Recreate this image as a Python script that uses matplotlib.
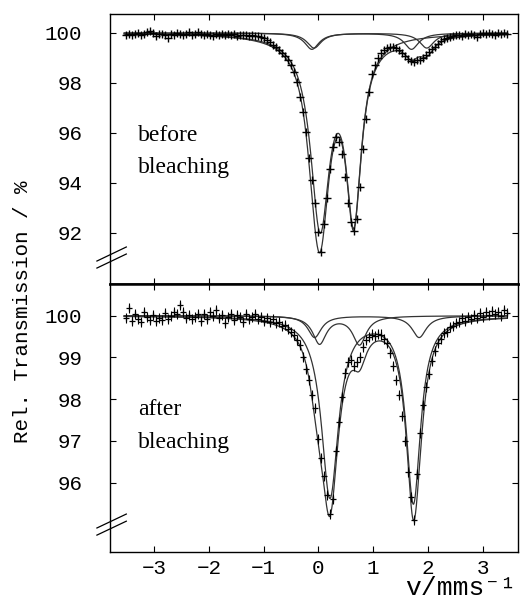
import numpy as np
import matplotlib
matplotlib.use('Agg')
import matplotlib.pyplot as plt

plt.rcParams['font.family'] = ['Liberation Mono', 'DejaVu Sans Mono']

# Mossbauer channels (mm/s), same velocity scale for both spectra
v_start, v_step, n_chan = -3.52, 0.0548, 128
velocity = v_start + v_step * np.arange(n_chan)

# measured transmission (%) - before bleaching
top_trans = [
    99.93, 99.97, 99.90, 99.95, 99.99, 99.92, 99.96, 100.03, 100.08, 99.98,
    99.88, 99.94, 99.97, 99.90, 99.80, 99.95, 99.92, 99.99, 99.94, 99.90,
    99.96, 100.02, 99.93, 99.97, 100.04, 99.95, 99.91, 99.97, 99.93, 99.88,
    99.95, 99.92, 99.96, 99.90, 99.94, 99.91, 99.95, 99.89, 99.93, 99.90,
    99.92, 99.87, 99.90, 99.86, 99.88, 99.84, 99.78, 99.70, 99.62, 99.52,
    99.45, 99.33, 99.20, 99.08, 98.92, 98.70, 98.42, 98.02, 97.45, 96.85,
    96.05, 95.00, 94.10, 93.20, 92.05, 91.25, 92.35, 93.40, 94.55, 95.45,
    95.82, 95.65, 95.15, 94.25, 93.20, 92.45, 92.08, 92.55, 93.85, 95.35,
    96.55, 97.65, 98.35, 98.70, 98.98, 99.18, 99.30, 99.38, 99.42, 99.45,
    99.40, 99.32, 99.20, 99.08, 98.95, 98.86, 98.85, 98.90, 98.92, 99.00,
    99.12, 99.22, 99.35, 99.45, 99.57, 99.66, 99.75, 99.80, 99.85, 99.88,
    99.90, 99.93, 99.88, 99.95, 99.92, 99.97, 99.93, 99.82, 99.95, 99.98,
    99.94, 100.00, 99.96, 99.92, 99.98, 99.95, 100.01, 99.97]

# measured transmission (%) - after bleaching
bot_trans = [
    99.95, 100.18, 99.88, 100.05, 99.92, 99.85, 100.08, 99.96, 99.90, 100.02,
    99.87, 99.95, 99.90, 100.06, 99.93, 100.00, 100.10, 100.04, 100.25, 100.08,
    99.94, 100.02, 99.91, 99.97, 100.05, 99.88, 100.03, 99.92, 100.08, 100.00,
    100.14, 99.95, 100.02, 99.82, 99.96, 100.05, 99.90, 100.02, 99.97, 99.85,
    100.04, 99.92, 99.98, 100.05, 99.93, 99.97, 99.88, 99.95, 99.86, 99.92,
    99.82, 99.85, 99.76, 99.78, 99.68, 99.62, 99.55, 99.42, 99.30, 99.02,
    98.72, 98.45, 98.10, 97.80, 97.05, 96.60, 96.15, 95.70, 95.25, 95.60,
    96.75, 97.45, 98.05, 98.62, 98.88, 98.95, 98.80, 98.90, 99.02, 99.25,
    99.42, 99.50, 99.55, 99.52, 99.56, 99.55, 99.45, 99.35, 99.10, 98.80,
    98.45, 98.10, 97.60, 97.00, 96.25, 95.65, 95.10, 96.20, 97.20, 97.85,
    98.30, 98.60, 98.92, 99.15, 99.35, 99.45, 99.58, 99.62, 99.72, 99.75,
    99.82, 99.85, 99.95, 99.88, 99.98, 99.92, 100.02, 99.95, 100.06, 99.98,
    100.08, 100.02, 100.12, 100.04, 100.10, 100.00, 100.14, 100.06]
bot_err = 0.12

# fitted subspectra: (line position mm/s, depth %, half width mm/s)
top_main = [(0.03, 7.515, 0.21), (0.645, 7.04, 0.17)]
top_site_a = [(-0.12, 0.65, 0.16), (1.70, 0.65, 0.16)]
top_site_b = [(-0.08, 0.60, 0.16), (1.98, 0.60, 0.16)]

bot_main = [(0.21, 4.33, 0.19), (1.735, 4.45, 0.16)]
bot_site_c = [(-0.07, 0.52, 0.15), (1.84, 0.52, 0.16)]
bot_site_d = [(0.02, 0.66, 0.15), (0.75, 0.68, 0.15)]


def absorption(v, lines):
    a = np.zeros_like(v)
    for pos, depth, hw in lines:
        a += depth * hw**2 / ((v - pos)**2 + hw**2)
    return a


v_fit = np.linspace(-3.55, 3.45, 1400)

fig = plt.figure(figsize=(5.2, 6.05), dpi=100)
ax_top = fig.add_axes([0.2115, 0.5306, 0.785, 0.4463])
ax_bot = fig.add_axes([0.2115, 0.0876, 0.785, 0.4430])

fit_kw = dict(color='0.2', lw=0.9)

# before bleaching
for comp in (top_main, top_site_a, top_site_b):
    ax_top.plot(v_fit, 100 - absorption(v_fit, comp), **fit_kw)
ax_top.plot(v_fit, 100 - absorption(v_fit, top_main + top_site_a + top_site_b), **fit_kw)
ax_top.plot(velocity, top_trans, '+', color='k', ms=5.5, mew=1.0)

# after bleaching
for comp in (bot_main, bot_site_c, bot_site_d):
    ax_bot.plot(v_fit, 100 - absorption(v_fit, comp), **fit_kw)
ax_bot.plot(v_fit, 100 - absorption(v_fit, bot_main + bot_site_c + bot_site_d), **fit_kw)
ax_bot.errorbar(velocity, bot_trans, yerr=bot_err, fmt='+', color='k',
                ms=5, mew=0.9, elinewidth=0.8, capsize=0)

ax_top.set_ylim(89.96, 100.76)
ax_bot.set_ylim(94.34, 100.76)
ax_top.set_yticks([92, 94, 96, 98, 100])
ax_bot.set_yticks([96, 97, 98, 99, 100])

for ax in (ax_top, ax_bot):
    ax.set_xlim(-3.81, 3.65)
    ax.set_xticks([-3, -2, -1, 0, 1, 2, 3])
    ax.tick_params(direction='in', top=True, right=True, length=4, width=0.8,
                   labelsize=15)
    ax.tick_params(axis='y', pad=20)
    ax.tick_params(axis='x', pad=5)
    for s in ax.spines.values():
        s.set_linewidth(1.0)
ax_top.spines['bottom'].set_linewidth(1.8)
ax_bot.spines['top'].set_linewidth(1.8)
ax_top.tick_params(labelbottom=False)

# axis break marks on the left spine
for ax, y1, y2 in ((ax_top, 0.085, 0.059), (ax_bot, 0.0896, 0.063)):
    for y0 in (y1, y2):
        ax.plot([-0.032, 0.040], [y0, y0 + 0.052], color='k', lw=0.9,
                clip_on=False, transform=ax.transAxes)

serif = 'Liberation Serif'
ax_top.text(-3.29, 95.68, 'before', family=serif, fontsize=17, va='baseline')
ax_top.text(-3.29, 94.39, 'bleaching', family=serif, fontsize=17, va='baseline')
ax_bot.text(-3.29, 97.62, 'after', family=serif, fontsize=17, va='baseline')
ax_bot.text(-3.29, 96.82, 'bleaching', family=serif, fontsize=17, va='baseline')

fig.text(0.044, 0.485, 'Rel. Transmission / %', rotation=90, ha='center',
         va='center', fontsize=15)
fig.text(0.992, 0.016, 'v/mms\u207b\u00b9', ha='right', va='baseline', fontsize=19)

fig.savefig('out.png', dpi=100)
